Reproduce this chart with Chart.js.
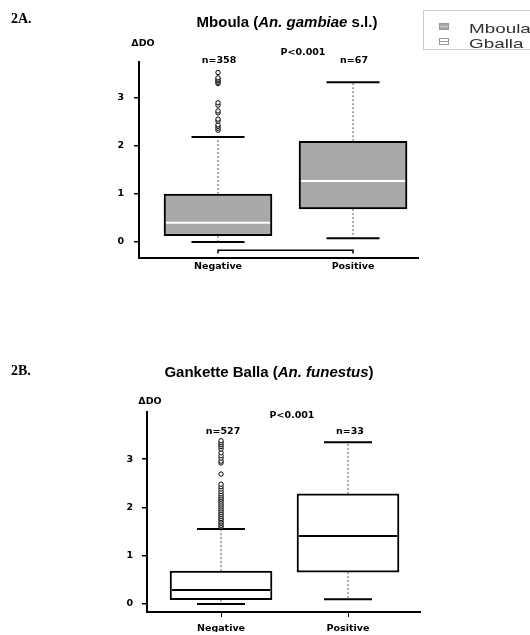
<!DOCTYPE html>
<html>
<head>
<meta charset="utf-8">
<script src="https://cdn.jsdelivr.net/npm/chart.js@4.4.1/dist/chart.umd.min.js"></script>
<style>
body { margin: 0; background: #fff; }
#page { position: relative; width: 530px; height: 635px; overflow: hidden; background: #fff; }
canvas { position: absolute; left: 0; }
.t { position: absolute; transform: translate(-50%, -50%); white-space: nowrap; line-height: 1; color: #000; }
.lbl { font: bold 14px "Liberation Serif", serif; transform: translate(0, -50%); }
.ttl { font: bold 15px "Liberation Sans", Arial, sans-serif; }
.small { font: bold 9.5px "DejaVu Sans", sans-serif; }
#legend { position: absolute; left: 423px; top: 10px; width: 130px; height: 40px; border: 1px solid #ccc; box-sizing: border-box; }
.li { position: absolute; left: 45px; font: 13px "Liberation Sans", Arial, sans-serif; color: #333; transform: translateY(-50%) scaleX(1.45); transform-origin: left center; line-height: 1; }
.ic { position: absolute; left: 15px; width: 10px; height: 7px; box-sizing: border-box; }
.ic span { position: absolute; left: 0; right: 0; top: 2px; height: 1px; }
</style>
</head>
<body>
<div id="page">
  <canvas id="chartA" width="530" height="290" style="top:0"></canvas>
  <canvas id="chartB" width="530" height="275" style="top:360px"></canvas>

  <div class="t lbl" style="left:11px; top:19px">2A.</div>
  <div class="t ttl" style="left:287px; top:21px">Mboula (<i>An. gambiae</i> s.l.)</div>
  <div class="t small" style="left:143px; top:42px">ΔDO</div>
  <div class="t small" style="left:303px; top:51px">P&lt;0.001</div>

  <div class="t lbl" style="left:11px; top:371px">2B.</div>
  <div class="t ttl" style="left:269px; top:371px">Gankette Balla (<i>An. funestus</i>)</div>
  <div class="t small" style="left:150px; top:400px">ΔDO</div>
  <div class="t small" style="left:292px; top:414px">P&lt;0.001</div>

  <div id="legend">
    <div class="ic" style="top:12px; background:#a9a9a9; border:1px solid #999"><span style="background:#c8c8c8"></span></div>
    <div class="li" style="top:17px">Mboula</div>
    <div class="ic" style="top:27px; background:#fff; border:1px solid #999"><span style="background:#999"></span></div>
    <div class="li" style="top:32px">Gballa</div>
  </div>
</div>
<script>
var groups = ['Negative', 'Positive'];
var yTicks = [0, 1, 2, 3];

// 2A Mboula
var mbMin = [0.00, 0.08];
var mbQ1 = [0.13, 0.69];
var mbMedian = [0.40, 1.27];
var mbQ3 = [1.00, 2.10];
var mbMax = [2.19, 3.33];
var mbOutliers = [2.33, 2.37, 2.41, 2.44, 2.52, 2.56, 2.69, 2.73, 2.85, 2.90, 3.30, 3.33, 3.36, 3.39, 3.42, 3.53];
var mbCounts = ['n=358', 'n=67'];

// 2B Gankette Balla
var gbMin = [0.00, 0.10];
var gbQ1 = [0.09, 0.66];
var gbMedian = [0.29, 1.41];
var gbQ3 = [0.68, 2.28];
var gbMax = [1.55, 3.35];
var gbOutliers = [1.60, 1.63, 1.67, 1.70, 1.74, 1.77, 1.81, 1.85, 1.89, 1.93, 1.97, 2.01, 2.05, 2.09,
                  2.13, 2.17, 2.20, 2.24, 2.28, 2.33, 2.38, 2.43, 2.48, 2.69, 2.92, 2.96, 3.02, 3.07,
                  3.13, 3.21, 3.26, 3.30, 3.34, 3.38];
var gbCounts = ['n=527', 'n=33'];

var smallFont = { family: 'DejaVu Sans', size: 9.5, weight: 'bold' };

function line(ctx, x1, y1, x2, y2) {
	ctx.beginPath();
	ctx.moveTo(x1, y1);
	ctx.lineTo(x2, y2);
	ctx.stroke();
}

// whiskers, caps, medians, n= labels and bracket
function makeExtras(p) {
	return {
		id: 'boxExtras',
		beforeDatasetsDraw: function(chart) {
			var ctx = chart.ctx, x = chart.scales.x, y = chart.scales.y;
			ctx.save();
			for (var i = 0; i < groups.length; i++) {
				var cx = x.getPixelForValue(i + 1);
				ctx.strokeStyle = '#555';
				ctx.lineWidth = 1;
				ctx.setLineDash([2, 2]);
				line(ctx, cx, y.getPixelForValue(p.q3[i]), cx, y.getPixelForValue(p.max[i]));
				line(ctx, cx, y.getPixelForValue(p.q1[i]), cx, y.getPixelForValue(p.min[i]));
				ctx.setLineDash([]);
				ctx.strokeStyle = '#000';
				ctx.lineWidth = 2;
				line(ctx, cx - p.capWidth / 2, y.getPixelForValue(p.max[i]), cx + p.capWidth / 2, y.getPixelForValue(p.max[i]));
				line(ctx, cx - p.capWidth / 2, y.getPixelForValue(p.min[i]), cx + p.capWidth / 2, y.getPixelForValue(p.min[i]));
			}
			if (p.bracket) {
				var x1 = x.getPixelForValue(1), x2 = x.getPixelForValue(2);
				var by = y.getPixelForValue(p.bracket[0]), be = y.getPixelForValue(p.bracket[1]);
				ctx.lineWidth = 1.5;
				ctx.beginPath();
				ctx.moveTo(x1, be);
				ctx.lineTo(x1, by);
				ctx.lineTo(x2, by);
				ctx.lineTo(x2, be);
				ctx.stroke();
			}
			ctx.restore();
		},
		afterDatasetsDraw: function(chart) {
			var ctx = chart.ctx, x = chart.scales.x, y = chart.scales.y;
			ctx.save();
			for (var i = 0; i < groups.length; i++) {
				var cx = x.getPixelForValue(i + 1);
				var my = y.getPixelForValue(p.median[i]);
				ctx.strokeStyle = p.medianColor;
				ctx.lineWidth = 2;
				line(ctx, cx - p.boxWidth / 2 + 2, my, cx + p.boxWidth / 2 - 2, my);
				ctx.fillStyle = '#000';
				ctx.font = 'bold 9.5px "DejaVu Sans"';
				ctx.textAlign = 'center';
				ctx.textBaseline = 'middle';
				ctx.fillText(p.counts[i], cx + p.countDx, chart.chartArea.top + p.countDy);
			}
			ctx.restore();
		}
	};
}

function boxChart(id, p) {
	var boxes = [];
	for (var i = 0; i < groups.length; i++) {
		boxes.push({ x: i + 1, y: [p.q1[i], p.q3[i]] });
	}
	var outs = p.outliers.map(function(v) { return { x: 1, y: v }; });
	var canvas = document.getElementById(id);

	new Chart(canvas, {
		type: 'bar',
		data: {
			datasets: [
				{
					type: 'bar',
					data: boxes,
					backgroundColor: p.fill,
					borderColor: '#000',
					borderWidth: 2,
					borderSkipped: false,
					barThickness: p.boxWidth
				},
				{
					type: 'scatter',
					data: outs,
					pointRadius: 2.2,
					pointBorderWidth: 1,
					pointBorderColor: '#000',
					pointBackgroundColor: '#fff'
				}
			]
		},
		options: {
			responsive: false,
			animation: false,
			events: [],
			layout: {
				padding: { left: p.area[0] - 30, right: 530 - p.area[1], top: p.area[2], bottom: canvas.height - p.area[3] - 20 }
			},
			plugins: { legend: { display: false }, tooltip: { enabled: false } },
			scales: {
				x: {
					type: 'linear',
					offset: false,
					min: p.xRange[0],
					max: p.xRange[1],
					afterBuildTicks: function(s) { s.ticks = [{ value: 1 }, { value: 2 }]; },
					afterFit: function(s) { s.height = 20; },
					grid: { offset: false, drawOnChartArea: false, drawTicks: p.xTicks, tickLength: 5, color: '#000', lineWidth: 1 },
					border: { color: '#000', width: 2 },
					ticks: {
						color: '#000',
						font: smallFont,
						padding: p.xPad,
						maxRotation: 0,
						autoSkip: false,
						callback: function(v) { return groups[v - 1]; }
					}
				},
				y: {
					min: p.yRange[0],
					max: p.yRange[1],
					afterBuildTicks: function(s) { s.ticks = yTicks.map(function(v) { return { value: v }; }); },
					afterFit: function(s) { s.width = 30; },
					grid: { drawOnChartArea: false, tickLength: 5, color: '#000', lineWidth: 1.5 },
					border: { color: '#000', width: 2 },
					ticks: { color: '#000', font: smallFont, padding: p.yPad }
				}
			}
		},
		plugins: [makeExtras(p)]
	});
}

boxChart('chartA', {
	min: mbMin, q1: mbQ1, median: mbMedian, q3: mbQ3, max: mbMax,
	outliers: mbOutliers, counts: mbCounts,
	fill: '#a9a9a9', medianColor: '#fff',
	boxWidth: 108, capWidth: 53,
	area: [139, 418, 62, 258],
	xRange: [0.415, 2.481], yRange: [-0.333, 3.75],
	xTicks: false, xPad: 3, yPad: 10,
	countDx: 1, countDy: -1,
	bracket: [-0.17, -0.24]
});

boxChart('chartB', {
	min: gbMin, q1: gbQ1, median: gbMedian, q3: gbQ3, max: gbMax,
	outliers: gbOutliers, counts: gbCounts,
	fill: '#fff', medianColor: '#000',
	boxWidth: 102, capWidth: 48,
	area: [147, 420, 52, 252],
	xRange: [0.417, 2.567], yRange: [-0.166, 3.975],
	xTicks: true, xPad: 6, yPad: 9,
	countDx: 2, countDy: 20,
	bracket: null
});
</script>
</body>
</html>
